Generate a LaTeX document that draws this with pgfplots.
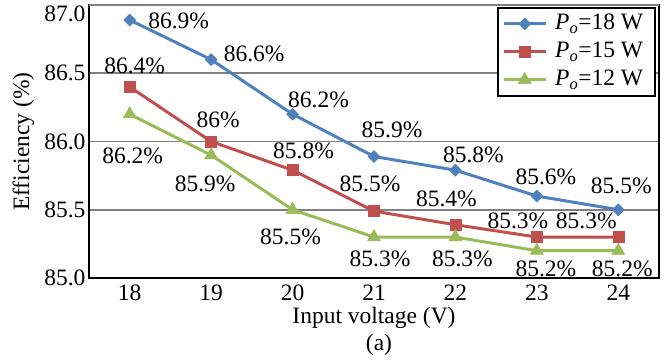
\documentclass[border=0pt]{standalone}
\usepackage{fontspec}
\setmainfont{Liberation Serif}
\usepackage{pgfplots}
\pgfplotsset{compat=1.18}
\definecolor{cblue}{HTML}{4F81BD}
\definecolor{cred}{HTML}{C0504D}
\definecolor{cgreen}{HTML}{9BBB59}
\newcommand{\fs}{\fontsize{23.5bp}{27bp}\selectfont}
\newcommand{\lab}[5]{\node[font=\fs, inner sep=0pt, anchor=center] at (axis cs:#1,#2) [xshift=#3bp, yshift=#4bp] {#5};}
\begin{document}
\begin{tikzpicture}
\begin{axis}[name=ax, scale only axis, width=570bp, height=273bp,
  xmin=17.5, xmax=24.5, ymin=85, ymax=87,
  xtick={18,19,20,21,22,23,24}, ytick={85,85.5,86,86.5},
  extra y ticks={87},
  extra y tick style={yticklabel style={yshift=-9bp}},
  ymajorgrids, grid style={color=black!50, line width=1.5bp},
  major tick length=0pt,
  axis line style={black, line width=1.8bp},
  tick label style={font=\fs},
  label style={font=\fs},
  yticklabel style={/pgf/number format/fixed, /pgf/number format/fixed zerofill, /pgf/number format/precision=1, /pgf/number format/assume math mode=true},
  xticklabel style={/pgf/number format/assume math mode=true, inner sep=0pt, yshift=-7bp},
  xlabel={Input voltage (V)}, ylabel={Efficiency (\%)},
  xlabel style={at={(axis description cs:0.5,-0.147)}, anchor=center, inner sep=0pt},
  ylabel style={at={(axis description cs:-0.115,0.5)}, anchor=center},
  clip=false,
  legend cell align=left,
  legend style={at={(1,1)}, anchor=north east, xshift=-3bp, yshift=-2bp,
    draw=black, line width=1.8bp, font=\fs, inner xsep=4bp, inner ysep=2bp, row sep=0bp,
    nodes={inner xsep=8bp, inner ysep=3bp, text height=17bp, text depth=5bp}},
  legend image code/.code={\draw[mark repeat=2, mark phase=2, #1] plot coordinates {(0bp,0bp) (21bp,0bp) (42bp,0bp)};},
]
\addplot[cblue, line width=3bp, mark=diamond*, mark size=6bp, mark options={solid, line width=0.5bp, xscale=1.33}]
  coordinates {(18,86.89) (19,86.6) (20,86.2) (21,85.89) (22,85.79) (23,85.6) (24,85.5)};
\addlegendentry{\textit{P}\textsubscript{\textit{o}}=18 W}
\addplot[cred, line width=3bp, mark=square*, mark size=5.5bp, mark options={solid, line width=0.5bp}]
  coordinates {(18,86.4) (19,86.0) (20,85.79) (21,85.49) (22,85.39) (23,85.3) (24,85.3)};
\addlegendentry{\textit{P}\textsubscript{\textit{o}}=15 W}
\addplot[cgreen, line width=3bp, mark=triangle*, mark size=7.5bp, mark options={solid, line width=0.5bp}]
  coordinates {(18,86.2) (19,85.9) (20,85.5) (21,85.3) (22,85.3) (23,85.2) (24,85.2)};
\addlegendentry{\textit{P}\textsubscript{\textit{o}}=12 W}
% blue labels
\lab{18}{86.89}{49}{-1}{86.9\%}
\lab{19}{86.6}{43}{6}{86.6\%}
\lab{20}{86.2}{26}{14}{86.2\%}
\lab{21}{85.89}{18}{27}{85.9\%}
\lab{22}{85.79}{18}{15}{85.8\%}
\lab{23}{85.6}{9}{19}{85.6\%}
\lab{24}{85.5}{3}{24}{85.5\%}
% red labels
\lab{18}{86.4}{5}{21}{86.4\%}
\lab{19}{86.0}{7}{22}{86\%}
\lab{20}{85.79}{11}{19}{85.8\%}
\lab{21}{85.49}{-4}{27}{85.5\%}
\lab{22}{85.39}{-9}{26}{85.4\%}
\lab{23}{85.3}{-19}{16}{85.3\%}
\lab{24}{85.3}{-32}{16}{85.3\%}
% green labels
\lab{18}{86.2}{3}{-42}{86.2\%}
\lab{19}{85.9}{-6}{-29}{85.9\%}
\lab{20}{85.5}{-2}{-27}{85.5\%}
\lab{21}{85.3}{6}{-22}{85.3\%}
\lab{22}{85.3}{7}{-22}{85.3\%}
\lab{23}{85.2}{9}{-18}{85.2\%}
\lab{24}{85.2}{4}{-18}{85.2\%}
\node[font=\fs, anchor=center] at (axis description cs:0.5,0) [xshift=5bp, yshift=-67bp] {(a)};
\end{axis}
\pgfresetboundingbox
\useasboundingbox ([shift={(-89bp,-85bp)}]ax.south west) rectangle ([shift={(9bp,5bp)}]ax.north east);
\end{tikzpicture}
\end{document}
